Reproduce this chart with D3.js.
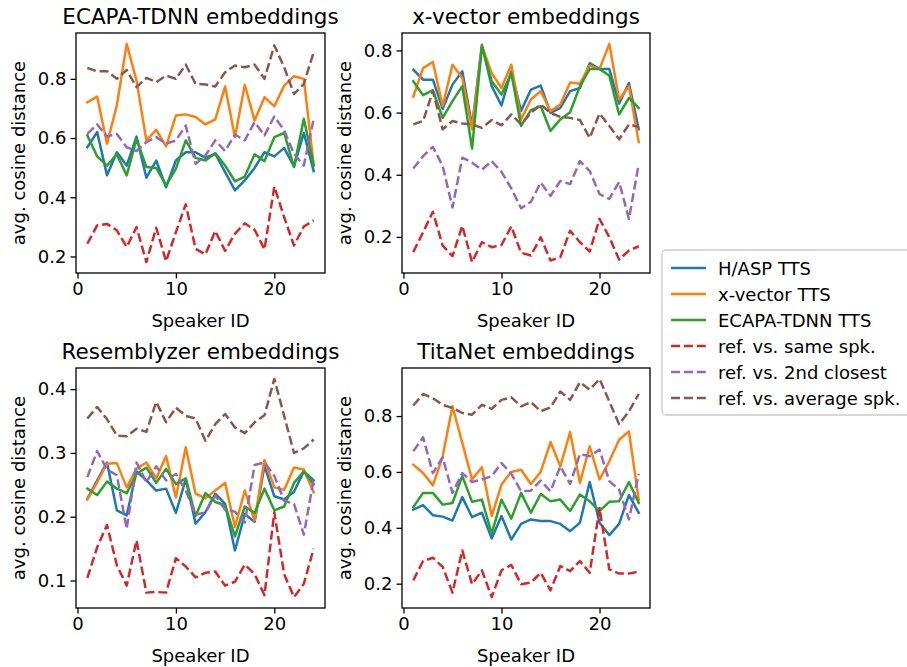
<!DOCTYPE html>
<html><head><meta charset="utf-8">
<script src="https://cdn.jsdelivr.net/npm/d3@7"></script>
<style>body{margin:0;background:#fff}svg{display:block;font-family:"DejaVu Sans",sans-serif}</style>
</head><body><svg id="c" width="907" height="667"></svg>
<script>
const speakers = d3.range(1, 25);
const seriesNames = ["H/ASP TTS","x-vector TTS","ECAPA-TDNN TTS","ref. vs. same spk.","ref. vs. 2nd closest","ref. vs. average spk."];
const seriesColors = ["#1f77b4","#ff7f0e","#2ca02c","#d62728","#9467bd","#8c564b"];
const panelTitles = ["ECAPA-TDNN embeddings","x-vector embeddings","Resemblyzer embeddings","TitaNet embeddings"];
const xTicks = [0,10,20];
const yTicks1 = [0.2,0.4,0.6,0.8];
const yTicks2 = [0.2,0.4,0.6,0.8];
const yTicks3 = [0.1,0.2,0.3,0.4];
const yTicks4 = [0.2,0.4,0.6,0.8];

// Panel 1: ECAPA-TDNN embeddings
const ecapa_hasp = [0.569,0.620,0.474,0.552,0.507,0.605,0.466,0.524,0.434,0.524,0.552,0.552,0.533,0.547,0.485,0.423,0.457,0.499,0.552,0.538,0.567,0.504,0.617,0.488];
const ecapa_xvec = [0.721,0.740,0.581,0.710,0.918,0.794,0.592,0.628,0.572,0.676,0.680,0.671,0.646,0.663,0.774,0.603,0.780,0.659,0.738,0.707,0.777,0.809,0.800,0.510];
const ecapa_ecapa = [0.609,0.538,0.507,0.545,0.474,0.597,0.502,0.499,0.440,0.496,0.592,0.533,0.524,0.549,0.507,0.454,0.470,0.545,0.522,0.603,0.617,0.502,0.665,0.507];
const ecapa_same = [0.243,0.305,0.310,0.288,0.232,0.299,0.181,0.297,0.184,0.282,0.376,0.226,0.207,0.286,0.219,0.277,0.312,0.290,0.224,0.436,0.333,0.237,0.301,0.322];
const ecapa_second = [0.614,0.646,0.605,0.614,0.569,0.556,0.586,0.603,0.581,0.592,0.642,0.513,0.541,0.592,0.556,0.612,0.592,0.654,0.609,0.673,0.626,0.547,0.507,0.665];
const ecapa_avg = [0.837,0.825,0.826,0.800,0.830,0.772,0.803,0.789,0.811,0.800,0.848,0.783,0.781,0.774,0.822,0.845,0.839,0.848,0.800,0.913,0.839,0.749,0.783,0.890];

// Panel 2: x-vector embeddings
const xvec_hasp = [0.738,0.706,0.706,0.612,0.690,0.733,0.557,0.818,0.685,0.623,0.733,0.605,0.674,0.687,0.599,0.615,0.669,0.679,0.759,0.740,0.740,0.629,0.695,0.546];
const xvec_xvec = [0.651,0.743,0.763,0.621,0.754,0.711,0.546,0.815,0.727,0.679,0.754,0.578,0.642,0.669,0.605,0.626,0.697,0.693,0.751,0.740,0.821,0.642,0.685,0.505];
const xvec_ecapa = [0.701,0.656,0.672,0.583,0.637,0.685,0.484,0.813,0.701,0.658,0.727,0.557,0.608,0.621,0.541,0.578,0.601,0.685,0.740,0.740,0.719,0.594,0.647,0.615];
const xvec_same = [0.151,0.215,0.281,0.172,0.138,0.236,0.119,0.183,0.167,0.174,0.234,0.149,0.140,0.199,0.124,0.135,0.220,0.183,0.153,0.258,0.199,0.127,0.156,0.170];
const xvec_second = [0.420,0.460,0.490,0.428,0.295,0.455,0.439,0.416,0.444,0.409,0.356,0.292,0.313,0.375,0.332,0.380,0.370,0.444,0.412,0.338,0.322,0.377,0.258,0.434];
const xvec_avg = [0.562,0.573,0.669,0.546,0.573,0.565,0.562,0.551,0.576,0.559,0.594,0.562,0.599,0.626,0.599,0.586,0.583,0.576,0.519,0.597,0.557,0.514,0.562,0.554];

// Panel 3: Resemblyzer embeddings
const resem_hasp = [0.228,0.257,0.285,0.210,0.202,0.271,0.257,0.241,0.244,0.206,0.259,0.189,0.207,0.236,0.220,0.147,0.204,0.192,0.280,0.232,0.227,0.239,0.271,0.257];
const resem_xvec = [0.227,0.254,0.283,0.284,0.246,0.275,0.285,0.260,0.295,0.230,0.309,0.236,0.229,0.241,0.253,0.184,0.241,0.194,0.289,0.246,0.242,0.277,0.274,0.238];
const resem_ecapa = [0.244,0.234,0.255,0.244,0.237,0.267,0.277,0.253,0.275,0.251,0.260,0.201,0.237,0.223,0.218,0.169,0.216,0.206,0.244,0.210,0.216,0.253,0.271,0.251];
const resem_same = [0.104,0.152,0.187,0.124,0.092,0.163,0.081,0.082,0.081,0.135,0.122,0.105,0.112,0.114,0.092,0.098,0.125,0.110,0.077,0.207,0.110,0.074,0.095,0.150];
const resem_second = [0.262,0.303,0.274,0.265,0.181,0.285,0.254,0.279,0.257,0.267,0.241,0.203,0.207,0.233,0.211,0.208,0.191,0.281,0.285,0.264,0.225,0.220,0.172,0.259];
const resem_avg = [0.354,0.372,0.353,0.327,0.326,0.338,0.333,0.380,0.348,0.371,0.358,0.354,0.319,0.345,0.361,0.340,0.331,0.348,0.359,0.416,0.358,0.300,0.307,0.321];

// Panel 4: TitaNet embeddings
const tita_hasp = [0.465,0.481,0.445,0.440,0.426,0.510,0.438,0.454,0.362,0.442,0.358,0.414,0.430,0.424,0.424,0.414,0.388,0.418,0.564,0.418,0.374,0.414,0.517,0.454];
const tita_xvec = [0.626,0.596,0.552,0.656,0.835,0.704,0.573,0.617,0.442,0.555,0.600,0.608,0.557,0.600,0.707,0.620,0.743,0.561,0.692,0.573,0.638,0.715,0.745,0.501];
const tita_ecapa = [0.474,0.525,0.525,0.483,0.489,0.585,0.493,0.501,0.379,0.501,0.433,0.525,0.454,0.521,0.495,0.501,0.460,0.519,0.495,0.460,0.493,0.495,0.564,0.489];
const tita_same = [0.212,0.281,0.293,0.260,0.168,0.319,0.198,0.248,0.152,0.248,0.267,0.198,0.204,0.239,0.176,0.263,0.245,0.281,0.239,0.471,0.251,0.236,0.236,0.243];
const tita_second = [0.674,0.724,0.596,0.652,0.525,0.596,0.564,0.573,0.585,0.632,0.593,0.531,0.533,0.569,0.531,0.620,0.557,0.664,0.656,0.680,0.567,0.537,0.430,0.593];
const tita_avg = [0.838,0.879,0.864,0.840,0.829,0.811,0.805,0.840,0.826,0.858,0.867,0.835,0.850,0.817,0.831,0.888,0.858,0.921,0.894,0.933,0.852,0.771,0.817,0.879];

const panels = [
  {title: panelTitles[0], ticks: yTicks1, series: [ecapa_hasp, ecapa_xvec, ecapa_ecapa, ecapa_same, ecapa_second, ecapa_avg]},
  {title: panelTitles[1], ticks: yTicks2, series: [xvec_hasp, xvec_xvec, xvec_ecapa, xvec_same, xvec_second, xvec_avg]},
  {title: panelTitles[2], ticks: yTicks3, series: [resem_hasp, resem_xvec, resem_ecapa, resem_same, resem_second, resem_avg]},
  {title: panelTitles[3], ticks: yTicks4, series: [tita_hasp, tita_xvec, tita_ecapa, tita_same, tita_second, tita_avg]}
];
const boxes = [
  {x0:76, x1:325, y0:33, y1:273},
  {x0:402, x1:650, y0:33, y1:273},
  {x0:76, x1:325, y0:368, y1:608},
  {x0:402, x1:650, y0:368, y1:608}
];

const svg = d3.select("#c");
const FS = 18, TFS = 21.5, LW = 2.5, DASH = "9,3.9";

panels.forEach((p, pi) => {
  const b = boxes[pi];
  const xmin = 1, xmax = 24, xpad = (xmax - xmin) * 0.05;
  const x = d3.scaleLinear().domain([xmin - xpad, xmax + xpad]).range([b.x0, b.x1]);
  const all = p.series.flat();
  const lo = d3.min(all), hi = d3.max(all), yp = (hi - lo) * 0.05;
  const y = d3.scaleLinear().domain([lo - yp, hi + yp]).range([b.y1, b.y0]);
  const g = svg.append("g");
  const clipId = "clip" + pi;
  svg.append("clipPath").attr("id", clipId).append("rect")
    .attr("x", b.x0).attr("y", b.y0).attr("width", b.x1 - b.x0).attr("height", b.y1 - b.y0);
  const line = d3.line().x((d, i) => x(speakers[i])).y(d => y(d));
  const lg = g.append("g").attr("clip-path", `url(#${clipId})`);
  p.series.forEach((s, si) => {
    lg.append("path").datum(s).attr("d", line)
      .attr("fill", "none").attr("stroke", seriesColors[si]).attr("stroke-width", LW)
      .attr("stroke-linejoin", "round").attr("stroke-linecap", si >= 3 ? "butt" : "square")
      .attr("stroke-dasharray", si >= 3 ? DASH : null);
  });
  const xa = g.append("g").attr("transform", `translate(0,${b.y1})`)
    .call(d3.axisBottom(x).tickValues(xTicks).tickSize(5.5).tickPadding(4).tickFormat(d3.format("d")));
  const ya = g.append("g").attr("transform", `translate(${b.x0},0)`)
    .call(d3.axisLeft(y).tickValues(p.ticks).tickSize(5.5).tickPadding(4).tickFormat(d3.format(".1f")));
  [xa, ya].forEach(a => {
    a.select(".domain").remove();
    a.selectAll("line").attr("stroke", "#000").attr("stroke-width", 1.3);
    a.selectAll("text").attr("font-size", FS).attr("fill", "#000").attr("font-family", "DejaVu Sans");
  });
  g.append("rect").attr("x", b.x0).attr("y", b.y0).attr("width", b.x1 - b.x0).attr("height", b.y1 - b.y0)
    .attr("fill", "none").attr("stroke", "#000").attr("stroke-width", 1.3);
  g.append("text").attr("x", (b.x0 + b.x1) / 2).attr("y", b.y0 - 9).attr("text-anchor", "middle")
    .attr("font-size", TFS).text(p.title);
  g.append("text").attr("x", (b.x0 + b.x1) / 2).attr("y", b.y1 + 54).attr("text-anchor", "middle")
    .attr("font-size", FS).text("Speaker ID");
  g.append("text").attr("transform", `translate(${b.x0 - 51},${(b.y0 + b.y1) / 2}) rotate(-90)`)
    .attr("text-anchor", "middle").attr("font-size", FS).text("avg. cosine distance");
});

// Legend
const leg = svg.append("g");
leg.append("rect").attr("x", 662).attr("y", 250).attr("width", 260).attr("height", 165).attr("rx", 4)
  .attr("fill", "#fff").attr("fill-opacity", 0.8).attr("stroke", "#ccc").attr("stroke-width", 1.3);
seriesNames.forEach((n, i) => {
  const yy = 268 + i * 26;
  leg.append("line").attr("x1", 671).attr("x2", 706).attr("y1", yy).attr("y2", yy)
    .attr("stroke", seriesColors[i]).attr("stroke-width", LW)
    .attr("stroke-dasharray", i >= 3 ? DASH : null);
  leg.append("text").attr("x", 718).attr("y", yy + 6.5).attr("font-size", FS).text(n);
});
</script></body></html>
